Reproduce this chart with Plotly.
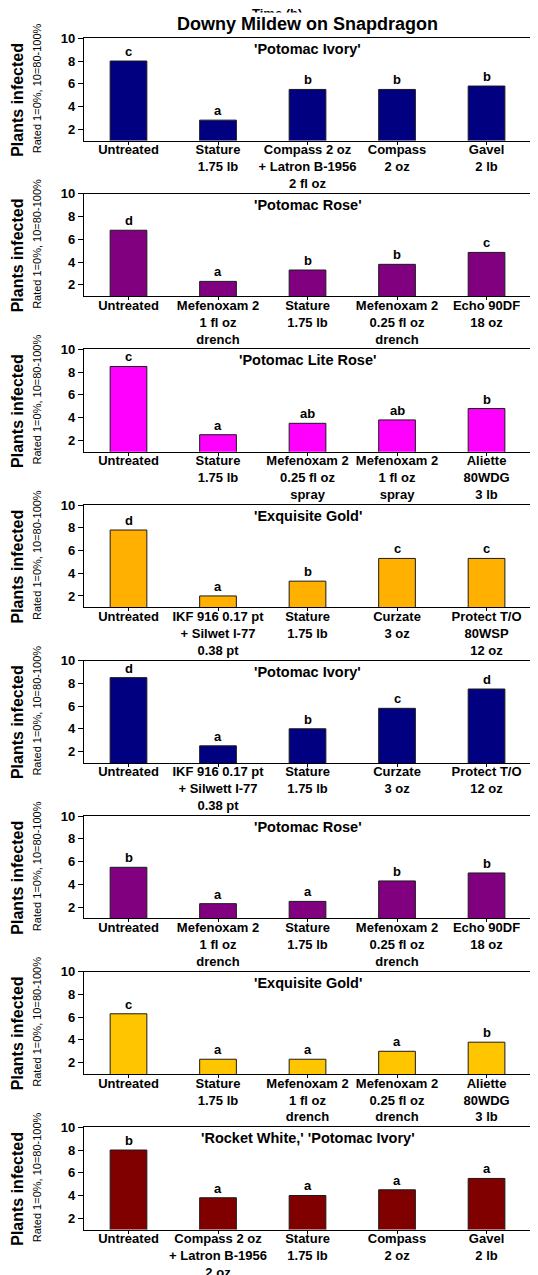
import plotly.graph_objects as go

FONT = "Liberation Sans, Arial, Helvetica, sans-serif"

main_title = "Downy Mildew on Snapdragon"
hidden_title = "Time (h)"
y_title = "Plants infected"
y_subtitle = "Rated 1=0%, 10=80-100%"
y_ticks = [2, 4, 6, 8, 10]

cultivars = ["'Potomac Ivory'", "'Potomac Rose'", "'Potomac Lite Rose'", "'Exquisite Gold'",
             "'Potomac Ivory'", "'Potomac Rose'", "'Exquisite Gold'", "'Rocket White,' 'Potomac Ivory'"]
bar_colors = ["#000080", "#800080", "#FF00FF", "#FFB000", "#000080", "#800080", "#FFC600", "#800000"]

labels_p1 = ["Untreated", "Stature<br>1.75 lb", "Compass 2 oz<br>+ Latron B-1956<br>2 fl oz", "Compass<br>2 oz", "Gavel<br>2 lb"]
values_p1 = [8.0, 2.8, 5.5, 5.5, 5.8]
letters_p1 = ["c", "a", "b", "b", "b"]

labels_p2 = ["Untreated", "Mefenoxam 2<br>1 fl oz<br>drench", "Stature<br>1.75 lb", "Mefenoxam 2<br>0.25 fl oz<br>drench", "Echo 90DF<br>18 oz"]
values_p2 = [6.8, 2.3, 3.3, 3.8, 4.85]
letters_p2 = ["d", "a", "b", "b", "c"]

labels_p3 = ["Untreated", "Stature<br>1.75 lb", "Mefenoxam 2<br>0.25 fl oz<br>spray", "Mefenoxam 2<br>1 fl oz<br>spray", "Aliette<br>80WDG<br>3 lb"]
values_p3 = [8.5, 2.5, 3.5, 3.8, 4.8]
letters_p3 = ["c", "a", "ab", "ab", "b"]

labels_p4 = ["Untreated", "IKF 916 0.17 pt<br>+ Silwet I-77<br>0.38 pt", "Stature<br>1.75 lb", "Curzate<br>3 oz", "Protect T/O<br>80WSP<br>12 oz"]
values_p4 = [7.8, 2.0, 3.3, 5.3, 5.3]
letters_p4 = ["d", "a", "b", "c", "c"]

labels_p5 = ["Untreated", "IKF 916 0.17 pt<br>+ Silwett I-77<br>0.38 pt", "Stature<br>1.75 lb", "Curzate<br>3 oz", "Protect T/O<br>12 oz"]
values_p5 = [8.5, 2.5, 4.0, 5.8, 7.5]
letters_p5 = ["d", "a", "b", "c", "d"]

labels_p6 = ["Untreated", "Mefenoxam 2<br>1 fl oz<br>drench", "Stature<br>1.75 lb", "Mefenoxam 2<br>0.25 fl oz<br>drench", "Echo 90DF<br>18 oz"]
values_p6 = [5.5, 2.3, 2.5, 4.3, 5.0]
letters_p6 = ["b", "a", "a", "b", "b"]

labels_p7 = ["Untreated", "Stature<br>1.75 lb", "Mefenoxam 2<br>1 fl oz<br>drench", "Mefenoxam 2<br>0.25 fl oz<br>drench", "Aliette<br>80WDG<br>3 lb"]
values_p7 = [6.3, 2.3, 2.3, 3.0, 3.8]
letters_p7 = ["c", "a", "a", "a", "b"]

labels_p8 = ["Untreated", "Compass 2 oz<br>+ Latron B-1956<br>2 oz", "Stature<br>1.75 lb", "Compass<br>2 oz", "Gavel<br>2 lb"]
values_p8 = [8.0, 3.8, 4.0, 4.5, 5.5]
letters_p8 = ["b", "a", "a", "a", "a"]

all_labels = [labels_p1, labels_p2, labels_p3, labels_p4, labels_p5, labels_p6, labels_p7, labels_p8]
all_values = [values_p1, values_p2, values_p3, values_p4, values_p5, values_p6, values_p7, values_p8]
all_letters = [letters_p1, letters_p2, letters_p3, letters_p4, letters_p5, letters_p6, letters_p7, letters_p8]

# the page puts the figure 8 px in from the top-left corner of the window
OFF = 8
W, H = 538 - OFF, 1275 - OFF
TOP0 = 38.3 - OFF
STEP = 155.57
PH = 102.3
LEFT = 83.75 - OFF


def px(x):
    return (x - OFF) / W


def py(y):
    return 1 - (y - OFF) / H


fig = go.Figure()
annotations = []
layout_axes = {}

for i in range(8):
    n = i + 1
    xa = "x" if n == 1 else f"x{n}"
    ya = "y" if n == 1 else f"y{n}"
    top = TOP0 + STEP * i
    bot = top + PH
    xs = list(range(len(all_values[i])))
    fig.add_trace(go.Bar(
        x=xs, y=all_values[i], xaxis=xa, yaxis=ya,
        width=0.41, marker=dict(color=bar_colors[i], line=dict(color="#1a1a1a", width=1)),
        showlegend=False, hoverinfo="skip",
    ))
    layout_axes[f"xaxis{n if n > 1 else ''}"] = dict(
        domain=[LEFT / W, 1.0], anchor=ya, range=[-0.5, 4.575], automargin=False,
        tickmode="array", tickvals=xs, ticktext=all_labels[i],
        ticks="outside", ticklen=3, tickcolor="black", ticklabelstandoff=-6,
        showline=True, linecolor="black", linewidth=1, mirror=True,
        showgrid=False, zeroline=False,
        tickfont=dict(family=FONT, size=13, color="black", weight="bold"),
    )
    layout_axes[f"yaxis{n if n > 1 else ''}"] = dict(
        domain=[1 - bot / H, 1 - top / H], anchor=xa, range=[1, 10], automargin=False,
        tickmode="array", tickvals=y_ticks,
        ticks="outside", ticklen=5, tickcolor="black",
        showline=True, linecolor="black", linewidth=1,
        showgrid=False, zeroline=False,
        tickfont=dict(family=FONT, size=13, color="black", weight="bold"),
    )
    for j, (v, L) in enumerate(zip(all_values[i], all_letters[i])):
        annotations.append(dict(
            x=j, y=v, xref=xa, yref=ya, text=L, showarrow=False,
            yanchor="bottom", yshift=0,
            font=dict(family=FONT, size=13, color="black", weight="bold"),
        ))
    annotations.append(dict(
        x=2, y=10, xref=xa, yref=ya, text=cultivars[i], showarrow=False,
        yanchor="top", yshift=-1,
        font=dict(family=FONT, size=14.5, color="black", weight="bold"),
    ))
    ref_top = top + OFF
    annotations.append(dict(
        x=px(17.5), y=py(ref_top + 62), xref="paper", yref="paper", text=y_title,
        showarrow=False, textangle=-90, xanchor="center", yanchor="middle",
        font=dict(family=FONT, size=16, color="black", weight="bold"),
    ))
    annotations.append(dict(
        x=px(37), y=py(ref_top + 50), xref="paper", yref="paper", text=y_subtitle,
        showarrow=False, textangle=-90, xanchor="center", yanchor="middle",
        font=dict(family=FONT, size=11, color="black"),
    ))

annotations.insert(0, dict(
    x=px(277), y=py(13), xref="paper", yref="paper", text=hidden_title,
    showarrow=False, xanchor="center", yanchor="middle",
    font=dict(family=FONT, size=13, color="black", weight="bold"),
))
annotations.append(dict(
    x=px(307), y=py(24), xref="paper", yref="paper", text=main_title,
    showarrow=False, xanchor="center", yanchor="middle", bgcolor="white", borderpad=1,
    font=dict(family=FONT, size=18, color="black", weight="bold"),
))

fig.update_layout(
    width=W, height=H, margin=dict(l=0, r=0, t=0, b=0, autoexpand=False),
    paper_bgcolor="white", plot_bgcolor="white",
    annotations=annotations, bargap=0.5,
    **layout_axes,
)

fig.write_html("out.html")
